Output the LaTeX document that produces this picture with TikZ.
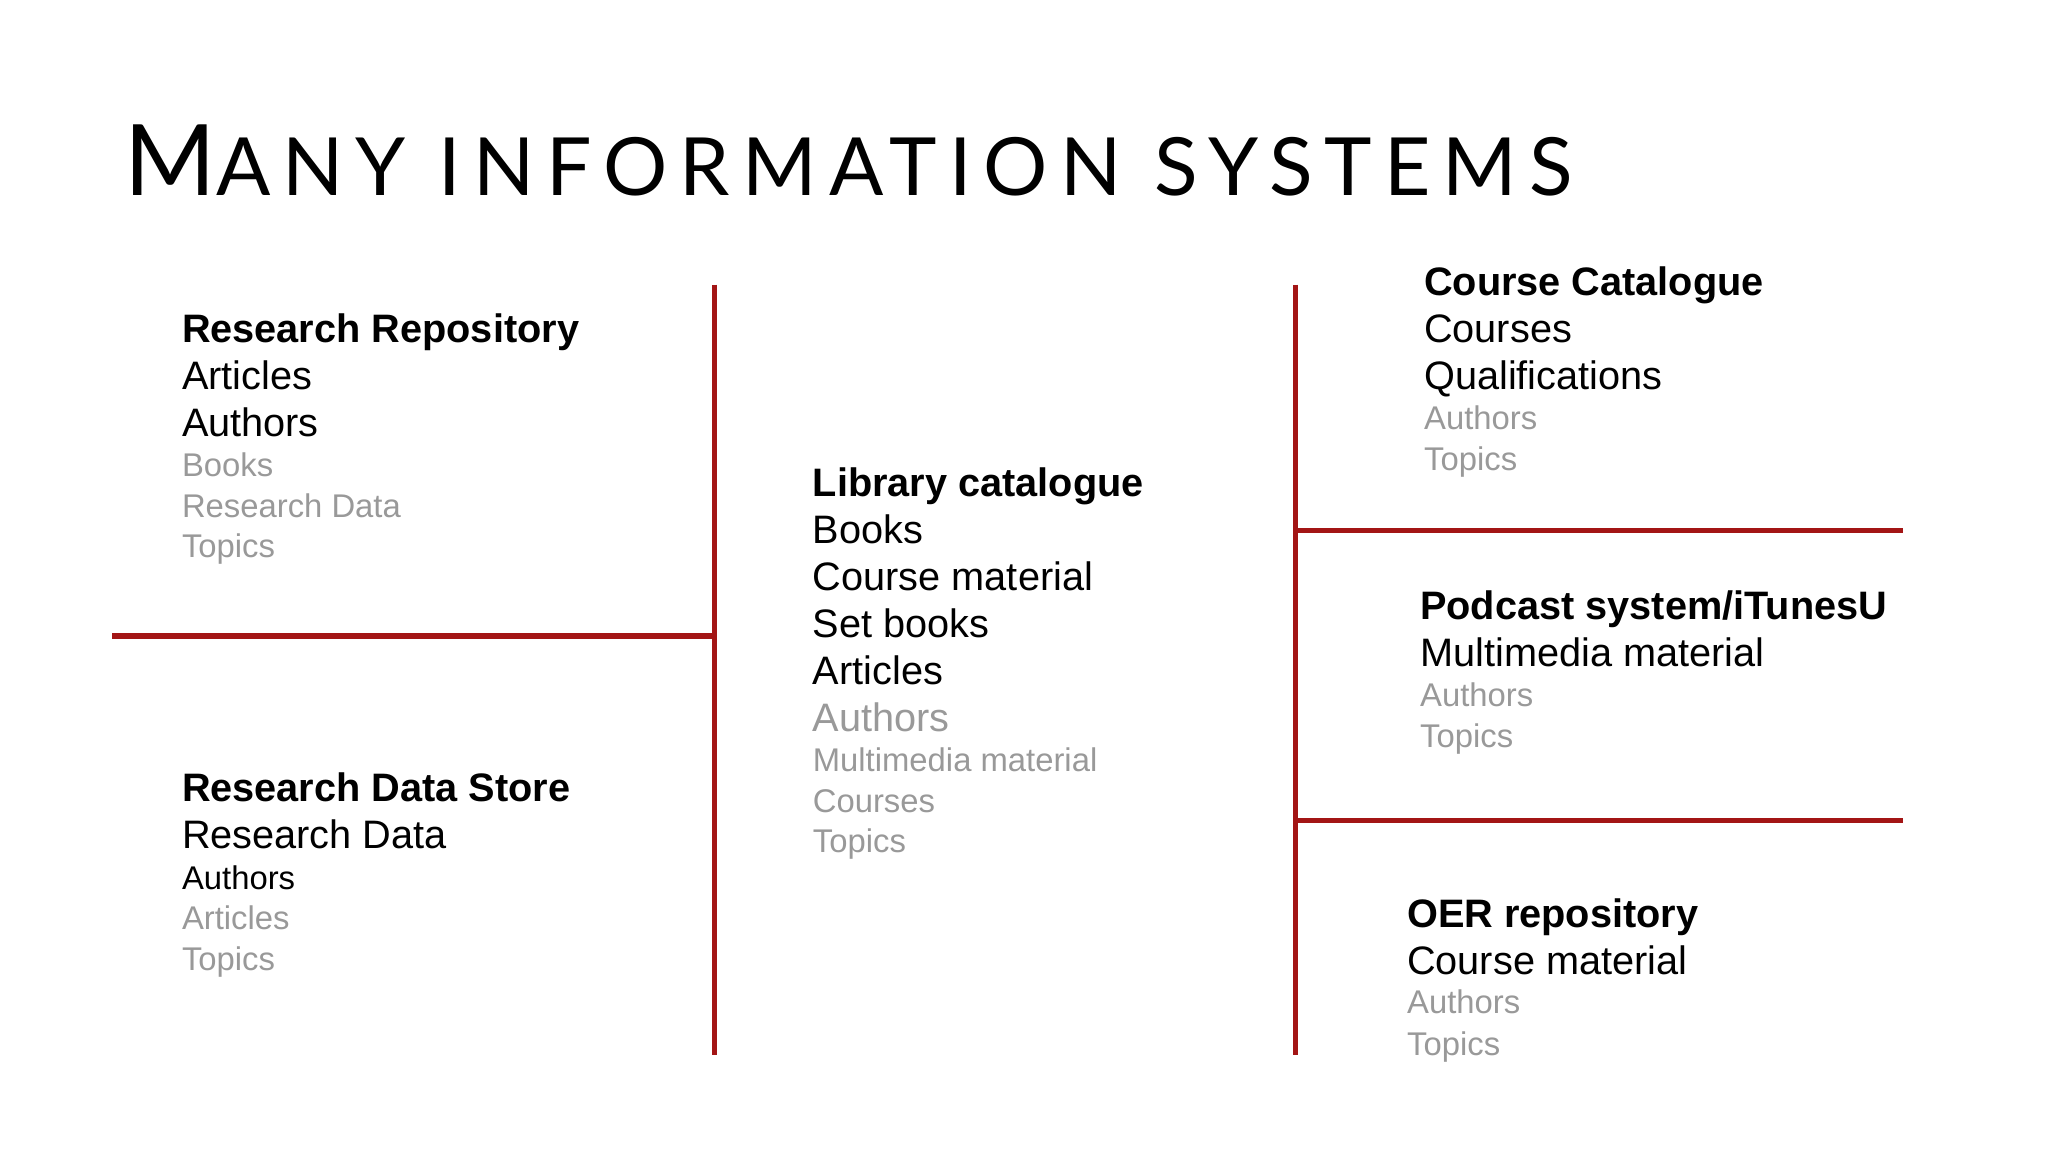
\documentclass[tikz,border=0pt]{standalone}
\usepackage{fontspec}
\setmainfont{Liberation Sans}
\newfontfamily\titlefont[LetterSpace=15]{Lato}
\definecolor{divred}{HTML}{A31515}
\definecolor{lgray}{HTML}{999999}
\begin{document}
\begin{tikzpicture}[x=0.02cm,y=-0.02cm,
  hd/.style={anchor=base west,inner sep=0pt,font=\fontsize{17.3}{20}\selectfont\bfseries},
  bk/.style={anchor=base west,inner sep=0pt,font=\fontsize{17.3}{20}\selectfont},
  bks/.style={anchor=base west,inner sep=0pt,font=\fontsize{14.3}{16}\selectfont},
  gl/.style={anchor=base west,inner sep=0pt,text=lgray,font=\fontsize{17.3}{20}\selectfont},
  gs/.style={anchor=base west,inner sep=0pt,text=lgray,font=\fontsize{14.3}{16}\selectfont},
  div/.style={draw=divred,line width=2.3pt}]
\useasboundingbox (0,0) rectangle (1568,882);
\node[anchor=base west,inner sep=0pt] (title) at (95,150) {\titlefont\fontsize{43}{48}\selectfont M\fontsize{35}{40}\selectfont ANY INFORMATION SYSTEMS};
% dividers
\coordinate (v1t) at (547,218); \coordinate (v1b) at (547,808);
\coordinate (h1l) at (86,487); \coordinate (h1r) at (547,487);
\coordinate (v2t) at (992,218); \coordinate (v2b) at (992,808);
\coordinate (h2l) at (992,406); \coordinate (h2r) at (1457,406);
\coordinate (h3l) at (992,628); \coordinate (h3r) at (1457,628);
\draw[div] (v1t) -- (v1b); \draw[div] (h1l) -- (h1r);
\draw[div] (v2t) -- (v2b); \draw[div] (h2l) -- (h2r); \draw[div] (h3l) -- (h3r);
% left top
\node[hd] (rr) at (139,262) {Research Repository};
\node[bk] (rr1) at (139,298) {Articles};
\node[bk] (rr2) at (139,334) {Authors};
\node[gs] (rr3) at (139,365) {Books};
\node[gs] (rr4) at (139,396) {Research Data};
\node[gs] (rr5) at (139,427) {Topics};
% left bottom
\node[hd] (rd) at (139,614) {Research Data Store};
\node[bk] (rd1) at (139,650) {Research Data};
\node[bks] (rd2) at (139,681) {Authors};
\node[gs] (rd3) at (139,712) {Articles};
\node[gs] (rd4) at (139,743) {Topics};
% middle
\node[hd] (lc) at (622,380) {Library catalogue};
\node[bk] (lc1) at (622,416) {Books};
\node[bk] (lc2) at (622,452) {Course material};
\node[bk] (lc3) at (622,488) {Set books};
\node[bk] (lc4) at (622,524) {Articles};
\node[gl] (lc5) at (622,560) {Authors};
\node[gs] (lc6) at (622,591) {Multimedia material};
\node[gs] (lc7) at (622,622) {Courses};
\node[gs] (lc8) at (622,653) {Topics};
% right top
\node[hd] (cc) at (1090,226) {Course Catalogue};
\node[bk] (cc1) at (1090,262) {Courses};
\node[bk] (cc2) at (1090,298) {Qualifications};
\node[gs] (cc3) at (1090,329) {Authors};
\node[gs] (cc4) at (1090,360) {Topics};
% right middle
\node[hd] (ps) at (1087,474) {Podcast system/iTunesU};
\node[bk] (ps1) at (1087,510) {Multimedia material};
\node[gs] (ps2) at (1087,541) {Authors};
\node[gs] (ps3) at (1087,572) {Topics};
% right bottom
\node[hd] (oer) at (1077,710) {OER repository};
\node[bk] (oer1) at (1077,746) {Course material};
\node[gs] (oer2) at (1077,776) {Authors};
\node[gs] (oer3) at (1077,808) {Topics};
\end{tikzpicture}
\end{document}
